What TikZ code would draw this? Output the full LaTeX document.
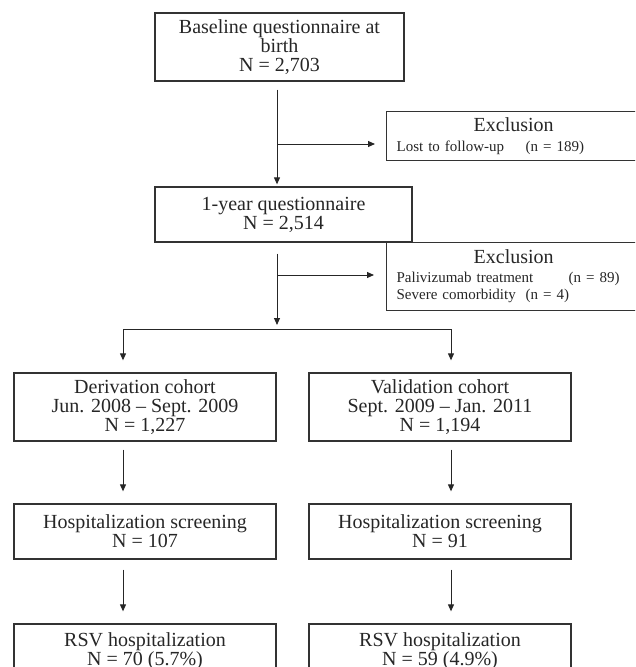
\documentclass[tikz,border=0pt]{standalone}
\usepackage{fontspec}
\setmainfont{Liberation Serif}
\usetikzlibrary{arrows.meta}
\tikzstyle{stage}=[draw=black!80,line width=1.3pt,align=center,inner sep=0pt,text=black!85,font=\fontsize{20}{19}\selectfont]
\tikzstyle{excl}=[draw=black!80,line width=1.3pt,anchor=north west,text width=234pt,align=left,inner xsep=10pt,inner ysep=0pt,text=black!85,font=\fontsize{15}{17}\selectfont]
\tikzstyle{flow}=[line width=1pt,black!85,-{Triangle[length=7pt,width=6pt]}]
\tikzstyle{link}=[line width=1pt,black!85]
\newcommand{\nitem}[3]{\makebox[#1][l]{#2}(n = #3)}
\newcommand{\exhead}{\makebox[234pt]{\fontsize{20}{20}\selectfont Exclusion}}

\begin{document}
\begin{tikzpicture}[x=1pt,y=-1pt]
\useasboundingbox (0,0) rectangle (635,667);
\clip (0,0) rectangle (635,667);
% main line and the two cohorts
\foreach \place/\name/\bw/\bh/\txt in
{ {(279.5,47)/base/249/68/{Baseline questionnaire at\\birth\\N = 2,703}},
  {(283.5,214.5)/year/257/55/{1-year questionnaire\\N = 2,514}},
  {(145,407)/deriv/262/68/{Derivation cohort\\Jun. 2008 – Sept. 2009\\N = 1,227}},
  {(440,407)/valid/262/68/{Validation cohort\\Sept. 2009 – Jan. 2011\\N = 1,194}},
  {(145,531.5)/hscrA/262/55/{Hospitalization screening\\N = 107}},
  {(440,531.5)/hscrB/262/55/{Hospitalization screening\\N = 91}},
  {(145,651.5)/rsvA/262/55/{RSV hospitalization\\N = 70 (5.7\%)}},
  {(440,651.5)/rsvB/262/55/{RSV hospitalization\\N = 59 (4.9\%)}}}
    \node[stage,minimum width=\bw pt,minimum height=\bh pt] (\name) at \place {\txt};
% exclusions
\node[excl,minimum height=49pt] (exclA) at (386,111)
  {\exhead\\[3pt]\nitem{129pt}{Lost to follow-up}{189}};
\node[excl,minimum height=68pt] (exclB) at (386,242)
  {\exhead\\[2pt]\nitem{172pt}{Palivizumab treatment}{89}\\
   \nitem{129pt}{Severe comorbidity}{4}};

\coordinate (jA) at (277,144);
\coordinate (jB) at (277,275);
\coordinate (sp) at (277,329);
\coordinate (spL) at (123,329);
\coordinate (spR) at (451,329);

\draw[flow,shorten <=8pt,shorten >=2pt] (base.south -| jA) -- (year.north -| jA);
\draw[flow,shorten >=11pt] (jA) -- (jA -| exclA.west);
\draw[flow,shorten <=11pt,shorten >=4pt] (year.south -| jB) -- (sp);
\draw[flow,shorten >=12pt] (jB) -- (jB -| exclB.west);
\draw[link] (spL) -- (spR);
\foreach \src/\fst/\snd/\thd in {spL/deriv/hscrA/rsvA, spR/valid/hscrB/rsvB}
{
  \draw[flow,shorten >=12pt] (\src) -- (\src |- \fst.north);
  \draw[flow,shorten <=8pt,shorten >=12pt] (\src |- \fst.south) -- (\src |- \snd.north);
  \draw[flow,shorten <=10pt,shorten >=12pt] (\src |- \snd.south) -- (\src |- \thd.north);
}
\end{tikzpicture}
\end{document}
